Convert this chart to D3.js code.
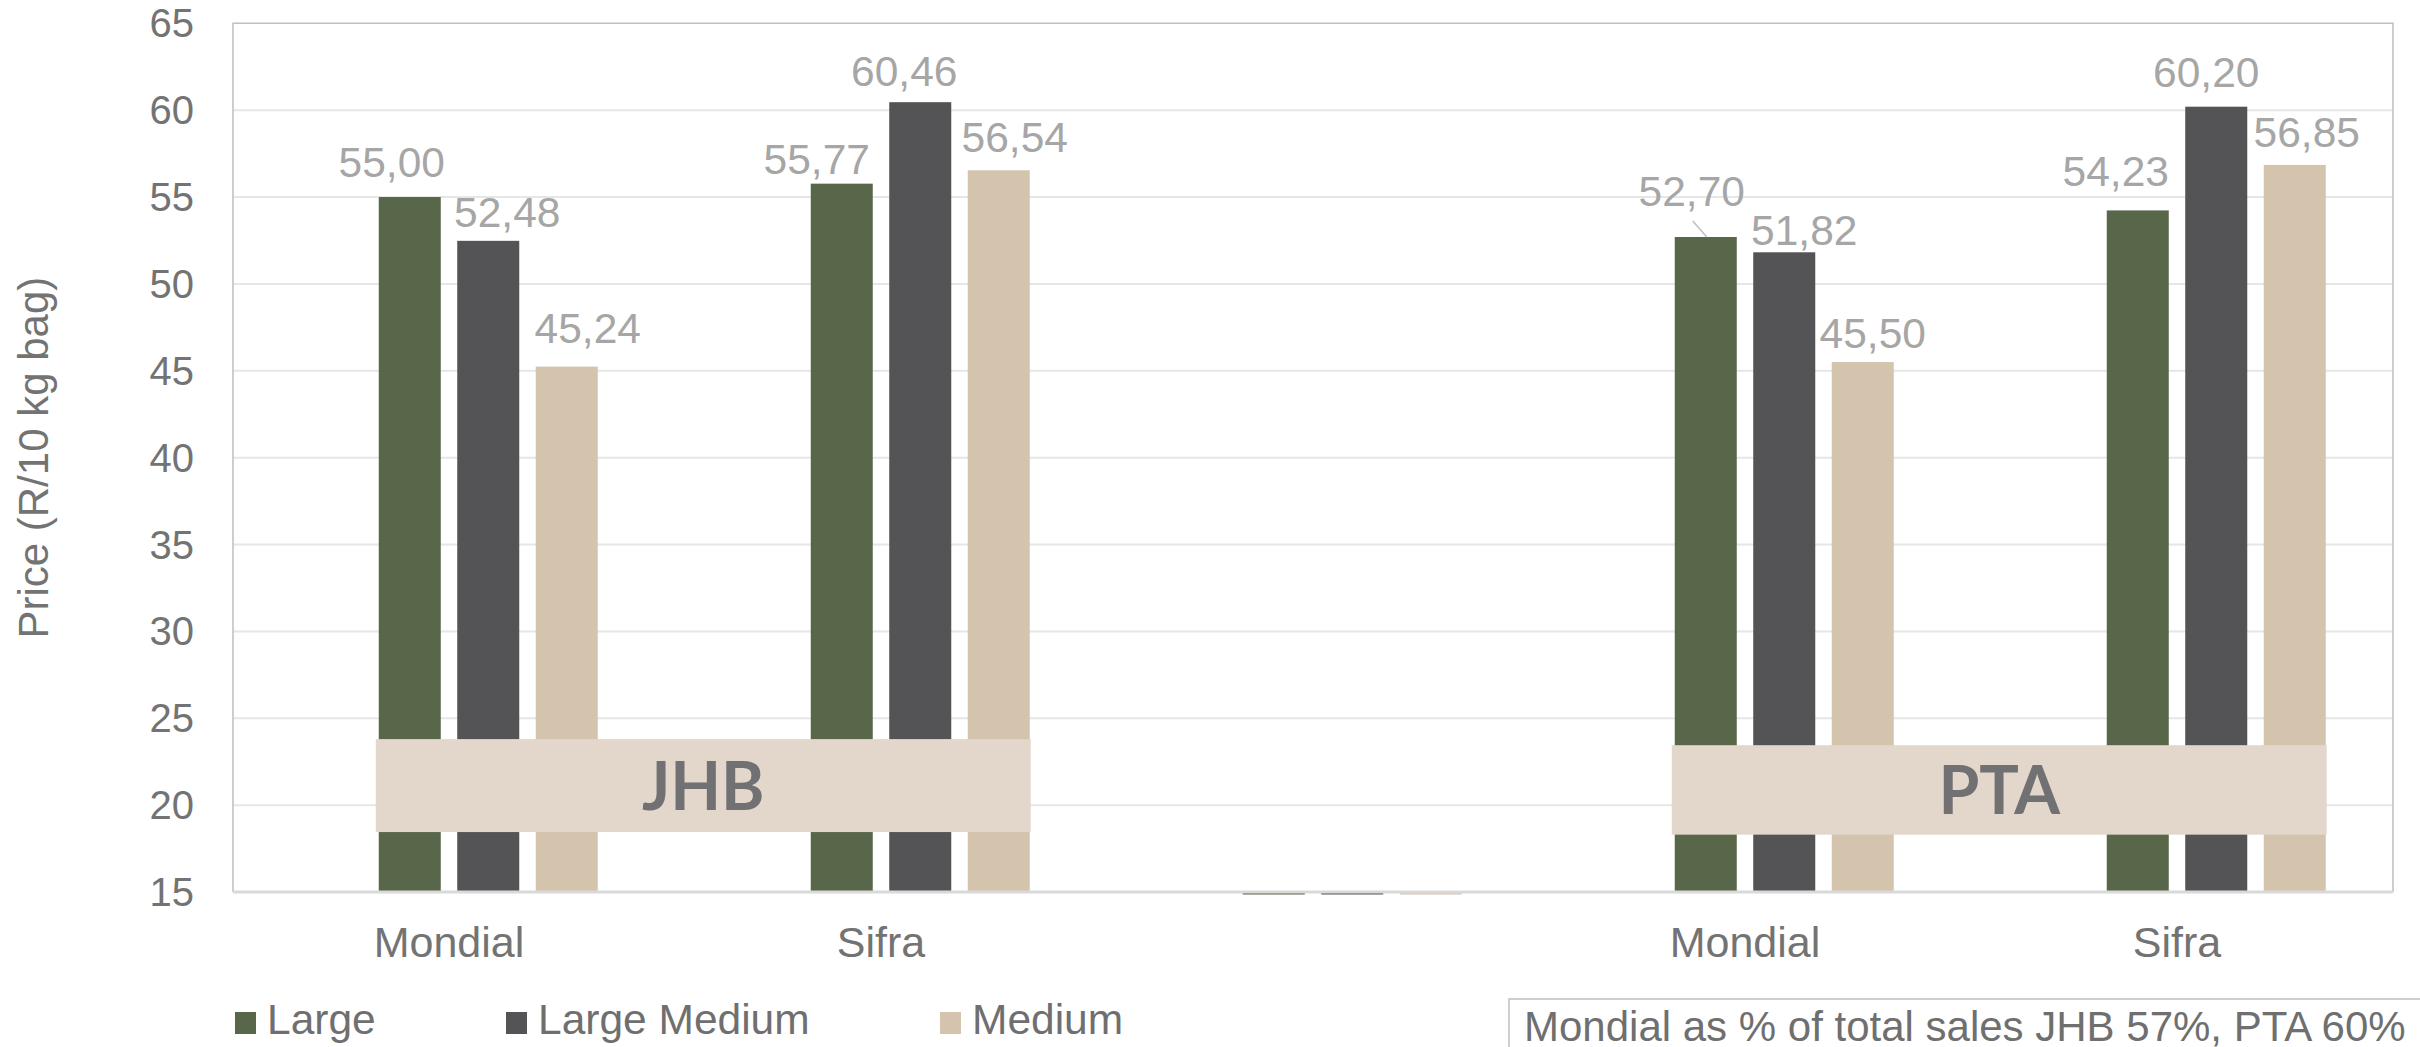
<!DOCTYPE html>
<html>
<head>
<meta charset="utf-8">
<script src="https://cdn.jsdelivr.net/npm/d3@7"></script>
<style>
body { margin: 0; background: #fff; }
svg { display: block; }
</style>
</head>
<body>
<svg width="2420" height="1047"></svg>
<script>
// categories (third slot is the empty spacer between the two markets)
var groupKeys = ["jhbMondial", "jhbSifra", "spacer", "ptaMondial", "ptaSifra"];
var groupLabels = ["Mondial", "Sifra", "", "Mondial", "Sifra"];
var seriesNames = ["Large", "Large Medium", "Medium"];
var large = [55.00, 55.77, 0, 52.70, 54.23];
var largeMedium = [52.48, 60.46, 0, 51.82, 60.20];
var medium = [45.24, 56.54, 0, 45.50, 56.85];
var yTicks = [15, 20, 25, 30, 35, 40, 45, 50, 55, 60, 65];
var markets = ["JHB", "PTA"];
var yTitle = "Price (R/10 kg bag)";
var noteText = "Mondial as % of total sales JHB 57%, PTA 60%";

var colors = ["#586749", "#545456", "#d4c3ad"];
var values = [large, largeMedium, medium];

var svg = d3.select("svg");
var plotLeft = 233, plotRight = 2393, plotTop = 23.3, plotBottom = 892;

var x = d3.scaleBand().domain(groupKeys).range([plotLeft, plotRight]);
// four slots per group, the first one is empty
var x1 = d3.scaleBand().domain([0, 1, 2, 3]).range([-148.75, 148.75]).paddingInner(0.21);
var y = d3.scaleLinear().domain([15, 65]).range([plotBottom, plotTop]);

function barX(g, s) { return x(groupKeys[g]) + x.bandwidth() / 2 + x1(s + 1); }

// gridlines
svg.append("g").selectAll("line")
    .data(yTicks.slice(1, -1))
    .enter().append("line")
    .attr("x1", plotLeft).attr("x2", plotRight)
    .attr("y1", d => y(d)).attr("y2", d => y(d))
    .attr("stroke", "#e6e6e6")
    .attr("stroke-width", 2);

// plot frame (top, left, right)
svg.append("path")
    .attr("d", `M${plotLeft},${plotBottom}V${plotTop}H${plotRight}V${plotBottom}`)
    .attr("fill", "none")
    .attr("stroke", "#bfbfbf")
    .attr("stroke-width", 1.5);

// bars
var bars = [];
values.forEach((arr, s) => {
    arr.forEach((v, g) => bars.push({g: g, s: s, v: v}));
});
svg.append("g").selectAll("rect")
    .data(bars)
    .enter().append("rect")
    .attr("x", d => barX(d.g, d.s))
    .attr("width", x1.bandwidth())
    .attr("y", d => d.v > 15 ? y(d.v) : y(15))
    .attr("height", d => d.v > 15 ? y(15) - y(d.v) : 2.5)
    .attr("fill", d => colors[d.s]);

// baseline
svg.append("line")
    .attr("x1", plotLeft).attr("x2", plotRight)
    .attr("y1", y(15)).attr("y2", y(15))
    .attr("stroke", "#d9d9d9")
    .attr("stroke-width", 3);

// y ticks
svg.append("g").selectAll("text")
    .data(yTicks)
    .enter().append("text")
    .attr("x", 194)
    .attr("y", d => y(d) + 14)
    .attr("text-anchor", "end")
    .attr("font-family", "Liberation Sans, Arial, sans-serif")
    .attr("font-size", 40)
    .attr("fill", "#737373")
    .text(d => d);

// x labels
svg.append("g").selectAll("text")
    .data(groupKeys)
    .enter().append("text")
    .attr("x", d => x(d) + x.bandwidth() / 2)
    .attr("y", 957)
    .attr("text-anchor", "middle")
    .attr("font-family", "Liberation Sans, Arial, sans-serif")
    .attr("font-size", 43)
    .attr("fill", "#737373")
    .text((d, i) => groupLabels[i]);

// y title
svg.append("text")
    .attr("transform", `translate(48,${(plotTop + plotBottom) / 2}) rotate(-90)`)
    .attr("text-anchor", "middle")
    .attr("font-family", "Liberation Sans, Arial, sans-serif")
    .attr("font-size", 42)
    .attr("fill", "#737373")
    .text(yTitle);

// market boxes spanning each pair of groups
var marketLayout = [
    {first: 0, last: 1, top: 23.8, bottom: 18.45},
    {first: 3, last: 4, top: 23.45, bottom: 18.3}
];
marketLayout.forEach((m, i) => {
    var bx0 = barX(m.first, 0) - 3;
    var bx1 = barX(m.last, 2) + x1.bandwidth() + 1;
    svg.append("rect")
        .attr("x", bx0).attr("y", y(m.top))
        .attr("width", bx1 - bx0).attr("height", y(m.bottom) - y(m.top))
        .attr("fill", "#e2d7ca");
    svg.append("text")
        .attr("x", (bx0 + bx1) / 2)
        .attr("y", (y(m.top) + y(m.bottom)) / 2 + 24)
        .attr("text-anchor", "middle")
        .attr("font-family", "Lato, Open Sans, sans-serif")
        .attr("font-weight", "bold")
        .attr("font-size", 66)
        .attr("fill", "#717073")
        .text(markets[i]);
});

// data labels, nudged by hand like the original
var labelNudge = [
    [[-18, -20], [19, -14], [21, -24]],
    [[-25, -10], [-16, -16], [16, -18]],
    null,
    [[-14, -31], [20, -7], [10, -14]],
    [[-22, -24], [-10, -20], [12, -18]]
];
var fmt = v => d3.format(".2f")(v).replace(".", ",");
svg.append("g").selectAll("text")
    .data(bars.filter(d => d.v > 15))
    .enter().append("text")
    .attr("x", d => barX(d.g, d.s) + x1.bandwidth() / 2 + labelNudge[d.g][d.s][0])
    .attr("y", d => y(d.v) + labelNudge[d.g][d.s][1])
    .attr("text-anchor", "middle")
    .attr("font-family", "Liberation Sans, Arial, sans-serif")
    .attr("font-size", 42.5)
    .attr("fill", "#a6a6a6")
    .text(d => fmt(d.v));

// leader line for the PTA Mondial Large label
var lx = barX(3, 0) + x1.bandwidth() / 2;
svg.append("line")
    .attr("x1", lx - 13).attr("y1", y(large[3]) - 16)
    .attr("x2", lx + 1).attr("y2", y(large[3]))
    .attr("stroke", "#bfbfbf")
    .attr("stroke-width", 1.5);

// legend
var legendX = [235, 506, 940];
var legend = svg.append("g").selectAll("g")
    .data(seriesNames)
    .enter().append("g")
    .attr("transform", (d, i) => `translate(${legendX[i]},1012)`);
legend.append("rect")
    .attr("width", 21).attr("height", 22)
    .attr("fill", (d, i) => colors[i]);
legend.append("text")
    .attr("x", 32).attr("y", 22)
    .attr("font-family", "Liberation Sans, Arial, sans-serif")
    .attr("font-size", 42.5)
    .attr("fill", "#6f6f6f")
    .text(d => d);

// note box
svg.append("rect")
    .attr("x", 1509).attr("y", 999)
    .attr("width", 1000).attr("height", 100)
    .attr("fill", "#fff")
    .attr("stroke", "#bfbfbf")
    .attr("stroke-width", 1.5);
svg.append("text")
    .attr("x", 1524).attr("y", 1041)
    .attr("font-family", "Liberation Sans, Arial, sans-serif")
    .attr("font-size", 42)
    .attr("fill", "#6f6f6f")
    .text(noteText);
</script>
</body>
</html>
